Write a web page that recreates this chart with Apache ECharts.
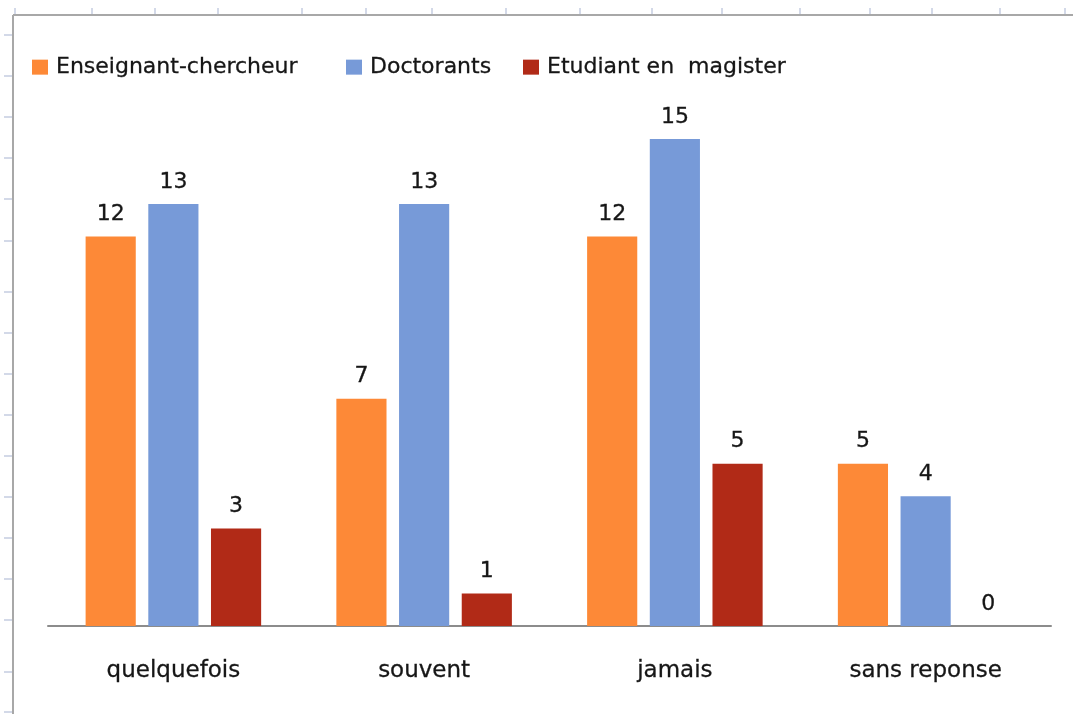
<!DOCTYPE html>
<html>
<head>
<meta charset="utf-8">
<script src="https://cdn.jsdelivr.net/npm/echarts@6/dist/echarts.min.js"></script>
<style>
html,body{margin:0;padding:0;background:#fff;}
#chart{width:1073px;height:714px;}
</style>
</head>
<body>
<div id="chart"></div>
<script>
const categories = ['quelquefois', 'souvent', 'jamais', 'sans reponse'];
const seriesNames = ['Enseignant-chercheur', 'Doctorants', 'Etudiant en  magister'];
const enseignant = [12, 7, 12, 5];
const doctorants = [13, 13, 15, 4];
const etudiant = [3, 1, 5, 0];
const colors = ['#FD8937', '#779AD8', '#B12A17'];

// decorative spreadsheet cell ticks outside the chart frame
const topTicks = [15, 92, 155, 218, 302, 366, 432, 506, 580, 652, 722, 800, 870, 932, 1000, 1065];
const leftTicks = [35, 76, 117, 158, 199, 241, 292, 333, 374, 415, 456, 497, 538, 579, 620, 672, 712];
const legendLefts = [27, 341, 518];

const graphics = [];
topTicks.forEach(x => graphics.push({type:'line', shape:{x1:x, y1:8, x2:x, y2:15}, style:{stroke:'#d3d9e8', lineWidth:2}, silent:true}));
leftTicks.forEach(y => graphics.push({type:'line', shape:{x1:4, y1:y, x2:13, y2:y}, style:{stroke:'#d3d9e8', lineWidth:2}, silent:true}));
graphics.push({type:'line', shape:{x1:13, y1:15, x2:1073, y2:15}, style:{stroke:'#a8a8a8', lineWidth:2}, silent:true});
graphics.push({type:'line', shape:{x1:13, y1:15, x2:13, y2:714}, style:{stroke:'#a8a8a8', lineWidth:2}, silent:true});

const font = 'DejaVu Sans';
const textColor = '#161616';
const values = [enseignant, doctorants, etudiant];

const chart = echarts.init(document.getElementById('chart'), null, {renderer:'canvas'});
chart.setOption({
  backgroundColor: '#ffffff',
  animation: false,
  graphic: graphics,
  legend: seriesNames.map((name, i) => ({
    left: legendLefts[i], top: 51,
    itemWidth: 16, itemHeight: 15,
    icon: 'rect',
    textStyle: {fontFamily: font, fontSize: 22, color: textColor, padding:[0,0,0,3],
      textBorderColor: textColor, textBorderWidth: 0.3},
    data: [name]
  })),
  grid: {left: 48, right: 22, top: 106.5, bottom: 88},
  xAxis: {
    type: 'category',
    data: categories,
    axisLine: {lineStyle: {color: '#8c8c8c', width: 2}},
    axisTick: {show: false},
    axisLabel: {fontFamily: font, fontSize: 23, color: textColor, margin: 34,
      textBorderColor: textColor, textBorderWidth: 0.3}
  },
  yAxis: {
    type: 'value', min: 0, max: 16, show: false,
    splitLine: {show: false}
  },
  series: seriesNames.map((name, i) => ({
    name: name,
    type: 'bar',
    data: values[i],
    barGap: '25%',
    barCategoryGap: '30%',
    itemStyle: {color: colors[i]},
    label: {
      show: true, position: 'top', distance: 11,
      fontFamily: font, fontSize: 22, color: textColor,
      textBorderColor: textColor, textBorderWidth: 0.3
    }
  }))
});
</script>
</body>
</html>
